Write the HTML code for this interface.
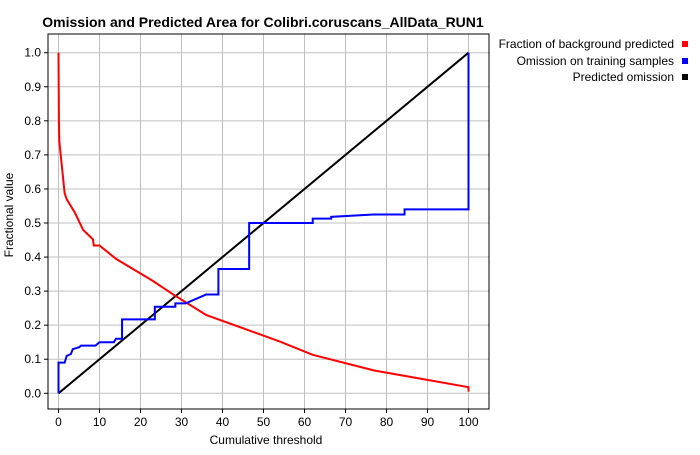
<!DOCTYPE html>
<html><head><meta charset="utf-8"><style>
body{margin:0;background:#fff;font-family:"Liberation Sans",sans-serif}
svg text{font-family:"Liberation Sans",sans-serif}
</style></head><body>
<svg id="chart" width="700" height="450" xmlns="http://www.w3.org/2000/svg">
<rect width="700" height="450" fill="#fff"/>
<text x="263" y="27" text-anchor="middle" font-size="14" font-weight="bold">Omission and Predicted Area for Colibri.coruscans_AllData_RUN1</text>
<g id="grid"></g>
<g id="axes"></g>
<g id="series"></g>
<rect x="48" y="34" width="441" height="375" fill="none" stroke="#000" stroke-width="1"/>
<text x="266" y="444" text-anchor="middle" font-size="12">Cumulative threshold</text>
<text transform="translate(13,215) rotate(-90)" text-anchor="middle" font-size="12">Fractional value</text>
<g>
<text x="674" y="48" text-anchor="end" font-size="12">Fraction of background predicted</text>
<rect x="682" y="41" width="6" height="6" fill="#f00"/>
<text x="674" y="65" text-anchor="end" font-size="12">Omission on training samples</text>
<rect x="682" y="58" width="6" height="6" fill="#00f"/>
<text x="674" y="81" text-anchor="end" font-size="12">Predicted omission</text>
<rect x="682" y="74" width="6" height="6" fill="#000"/>
</g>
</svg>
<script>
const xTicks=[0,10,20,30,40,50,60,70,80,90,100];
const yTicks=[0,0.1,0.2,0.3,0.4,0.5,0.6,0.7,0.8,0.9,1.0];
const redX=[0,0.1,0.2,1.5,2,4,6,8.4,8.6,10,14,23,28,36,54,62,77,100,100];
const redY=[1.0,0.8,0.74,0.587,0.57,0.53,0.48,0.452,0.434,0.434,0.395,0.33,0.29,0.23,0.152,0.113,0.067,0.018,0.005];
const blueX=[0,0,1.5,2,3,3.5,5,5.5,9,10,13.5,14,15.5,15.5,23.5,23.5,28.5,28.5,31,36,39,39,46.5,46.5,62,62,66.5,66.5,76.8,84.4,84.4,100,100];
const blueY=[0,0.09,0.09,0.11,0.115,0.13,0.135,0.14,0.14,0.15,0.15,0.16,0.16,0.217,0.217,0.254,0.254,0.264,0.264,0.29,0.29,0.365,0.365,0.5,0.5,0.513,0.513,0.518,0.525,0.525,0.54,0.54,1.0];
const blackX=[0,100];
const blackY=[0,1];
const sx=v=>58.5+v*4.1;
const sy=v=>393.3-v*340.6;
const NS="http://www.w3.org/2000/svg";
const grid=document.getElementById('grid'),axes=document.getElementById('axes'),ser=document.getElementById('series');
function mk(t,a,p){const e=document.createElementNS(NS,t);for(const k in a)e.setAttribute(k,a[k]);p.appendChild(e);return e;}
xTicks.forEach(t=>{
 const g=mk('line',{x1:sx(t),x2:sx(t),y1:34,y2:409,stroke:'#c0c0c0'},grid);
 
 
 const k=mk('line',{x1:sx(t),x2:sx(t),y1:409,y2:413,stroke:'#000'},axes);
 
 
 const l=mk('text',{x:sx(t),y:426,'text-anchor':'middle','font-size':12},axes);
 l.textContent=t;
 
 
});
yTicks.forEach(t=>{
 const g=mk('line',{x1:48,x2:489,y1:sy(t),y2:sy(t),stroke:'#c0c0c0'},grid);
 
 
 const k=mk('line',{x1:44,x2:48,y1:sy(t),y2:sy(t),stroke:'#000'},axes);
 
 
 const l=mk('text',{x:41,y:sy(t)+4,'text-anchor':'end','font-size':12},axes);
 l.textContent=t.toFixed(1);
 
 
});
function line(xs,ys,c,name){
 const p=mk('polyline',{points:xs.map((x,i)=>sx(x)+','+sy(ys[i])).join(' '),fill:'none',stroke:c,'stroke-width':2},ser);
 
 
}
line(blackX,blackY,'#000','predicted-omission-line');
line(redX,redY,'#f00','background-predicted-line');
line(blueX,blueY,'#00f','training-omission-line');
</script>
</body></html>
